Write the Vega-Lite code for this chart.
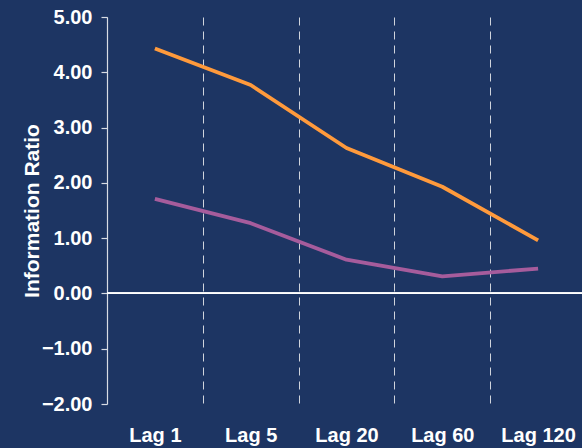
{
  "$schema": "https://vega.github.io/schema/vega-lite/v6.json",
  "autosize": {"type": "none"},
  "width": 479,
  "height": 387,
  "padding": {"left": 107, "top": 17, "right": 0, "bottom": 44},
  "background": "#1d3563",
  "config": {
    "view": {"stroke": null},
    "font": "Liberation Sans"
  },
  "data": {
    "values": [
      {"lag": "Lag 1", "series": "IR A", "ir": 4.43},
      {"lag": "Lag 5", "series": "IR A", "ir": 3.77},
      {"lag": "Lag 20", "series": "IR A", "ir": 2.63},
      {"lag": "Lag 60", "series": "IR A", "ir": 1.93},
      {"lag": "Lag 120", "series": "IR A", "ir": 0.96},
      {"lag": "Lag 1", "series": "IR B", "ir": 1.71},
      {"lag": "Lag 5", "series": "IR B", "ir": 1.27},
      {"lag": "Lag 20", "series": "IR B", "ir": 0.61},
      {"lag": "Lag 60", "series": "IR B", "ir": 0.31},
      {"lag": "Lag 120", "series": "IR B", "ir": 0.45}
    ]
  },
  "layer": [
    {
      "mark": {"type": "rule", "color": "#ffffff", "strokeWidth": 1.2},
      "encoding": {"y": {"datum": 0, "type": "quantitative"}}
    },
    {
      "mark": {"type": "line", "strokeWidth": 3.8, "strokeJoin": "round"},
      "encoding": {
        "x": {
          "field": "lag",
          "type": "ordinal",
          "sort": ["Lag 1", "Lag 5", "Lag 20", "Lag 60", "Lag 120"],
          "scale": {"type": "band", "paddingInner": 0, "paddingOuter": 0},
          "axis": {
            "title": null,
            "domain": false,
            "ticks": false,
            "tickBand": "extent",
            "grid": true,
            "gridColor": "#d0d4dc",
            "gridDash": [8, 6],
            "gridWidth": 1,
            "labelAngle": 0,
            "labelColor": "#ffffff",
            "labelFont": "Liberation Sans",
            "labelFontWeight": "bold",
            "labelFontSize": 20,
            "labelPadding": 21
          }
        },
        "y": {
          "field": "ir",
          "type": "quantitative",
          "scale": {"domain": [-2, 5], "nice": false, "zero": false},
          "axis": {
            "title": "Information Ratio",
            "titleColor": "#ffffff",
            "titleFont": "Liberation Sans",
            "titleFontWeight": "bold",
            "titleFontSize": 21,
            "titleBaseline": "alphabetic",
            "titleX": -69,
            "values": [-2, -1, 0, 1, 2, 3, 4, 5],
            "format": ".2f",
            "grid": false,
            "domain": true,
            "domainColor": "#d8dce4",
            "domainWidth": 1.2,
            "ticks": true,
            "tickSize": 6,
            "tickColor": "#d8dce4",
            "tickWidth": 1.2,
            "labelColor": "#ffffff",
            "labelFont": "Liberation Sans",
            "labelFontWeight": "bold",
            "labelFontSize": 20,
            "labelPadding": 9
          }
        },
        "color": {
          "field": "series",
          "type": "nominal",
          "scale": {"domain": ["IR A", "IR B"], "range": ["#ff9a3c", "#a65c9c"]},
          "legend": null
        }
      }
    }
  ]
}
